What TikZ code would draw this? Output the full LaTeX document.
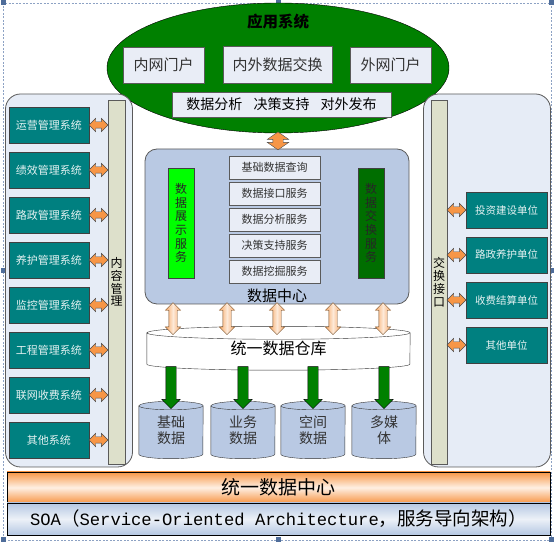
\documentclass[tikz,border=0pt]{standalone}
\usepackage{fontspec}
\setmainfont{Noto Sans CJK SC}
\newfontfamily\monofont{Liberation Mono}
\usepackage{tikz}
\usetikzlibrary{arrows.meta,positioning,shapes.geometric,shapes.arrows,calc,backgrounds}
\definecolor{appgreen}{HTML}{008000}
\definecolor{portalfill}{HTML}{E9EDF6}
\definecolor{panelfill}{HTML}{E6ECF6}
\definecolor{barfill}{HTML}{DDE0CB}
\definecolor{systeal}{HTML}{008080}
\definecolor{dcblue}{HTML}{B9C9E3}
\definecolor{limegreen}{HTML}{00FF00}
\definecolor{deepgreen}{HTML}{006E00}
\definecolor{linkorange}{HTML}{F79646}
\definecolor{peach}{HTML}{F7A865}
\definecolor{edgegray}{HTML}{5A5A5A}
\definecolor{handleblue}{HTML}{4F6D9A}
\definecolor{frameblue}{HTML}{8DA2C4}
\definecolor{soablue}{HTML}{B4C7E2}
\tikzset{
  portal/.style={draw=edgegray,fill=portalfill,inner sep=0pt,text=black!80,
    font=\fontsize{15}{15}\selectfont},
  panel/.style={draw=edgegray,fill=panelfill,rounded corners=15pt,line width=0.8pt,
    minimum width=127pt,minimum height=373pt},
  sidebar/.style={draw=edgegray,fill=barfill,minimum width=17pt,minimum height=364pt,
    inner sep=0pt,align=center,font=\fontsize{12}{12.8}\selectfont},
  sysbox/.style={draw=black!75,fill=systeal,text=white!90!systeal,inner sep=0pt,
    minimum width=80pt,minimum height=36pt,font=\fontsize{11}{11}\selectfont},
  unitbox/.style={sysbox,minimum width=81pt,font=\fontsize{10.5}{10.5}\selectfont},
  dcbox/.style={draw=edgegray,fill=dcblue,rounded corners=12pt,line width=0.8pt,
    minimum width=264pt,minimum height=155pt},
  svcbar/.style={draw=black!75,minimum width=26pt,minimum height=110pt,inner sep=0pt,
    align=center,text=black!85,font=\fontsize{12}{13.7}\selectfont},
  svcbox/.style={draw=edgegray,fill=portalfill,minimum width=91pt,minimum height=23pt,
    inner sep=0pt,text=black!80,font=\fontsize{11}{11}\selectfont},
  dbnode/.style={minimum width=64pt,minimum height=48pt,inner sep=0pt,align=center,
    text=black!80,font=\fontsize{14}{16.5}\selectfont},
  dbshape/.style={draw=black!80,fill=dcblue},
  hlink/.style={double arrow,draw=black!70,fill=linkorange,inner sep=3pt,
    minimum height=19pt,double arrow head extend=3.5pt},
  vlink/.style={hlink,shape border rotate=90,inner sep=5pt,minimum height=18pt,
    double arrow head extend=5.5pt,double arrow tip angle=110},
  feedlink/.style={double arrow,shape border rotate=90,draw=brown!60!black,
    left color=peach,right color=peach,middle color=peach!25,inner sep=4pt,
    minimum height=32pt,double arrow head extend=3.5pt},
  loadlink/.style={single arrow,shape border rotate=270,draw=black,fill=appgreen,
    inner sep=5pt,minimum height=42pt,single arrow head extend=4pt},
  band/.style={draw=black,minimum width=543pt,inner sep=0pt}
}

\begin{document}
\begin{tikzpicture}[x=1pt,y=1pt]
  \useasboundingbox (0,0) rectangle (554,543);
  % Frame and handles
  \draw[frameblue,dash pattern=on 2pt off 1.5pt] (3,3) rectangle (551,540);
  \foreach \hx/\hy in {3/3,278/3,551/3,3/272,551/272,3/540,278/540,551/540} {
    \fill[handleblue] (\hx-2.5,\hy-2.5) rectangle ++(5,5);
  }
  % Application system
  \node[ellipse,draw=black,fill=appgreen,minimum width=342pt,minimum height=130pt] (app) at (278,475) {};
  \node[font=\fontsize{15.5}{15.5}\selectfont\bfseries] (apptitle) at (278,521) {应用系统};
  \node[portal,minimum width=81pt,minimum height=36pt] (inportal) at (163.5,478) {内网门户};
  \node[portal,minimum width=109pt,minimum height=37pt] (exchange) at (277.5,478.5) {内外数据交换};
  \node[portal,minimum width=81pt,minimum height=36pt] (outportal) at (390.5,478) {外网门户};
  \node[portal,minimum width=219pt,minimum height=25pt,text=black,font=\fontsize{14}{14}\selectfont]
    (appfunc) at (281.5,438.5) {数据分析\hspace{0.8em}决策支持\hspace{0.8em}对外发布};
  % Left panel: internal systems
  \node[panel] (lpanel) at (69,262.5) {};
  \node[sidebar] (inbar) at (116.5,261) {内\\容\\管\\理};
  \foreach \i/\txt in {0/运营管理系统,1/绩效管理系统,2/路政管理系统,3/养护管理系统,
      4/监控管理系统,5/工程管理系统,6/联网收费系统,7/其他系统} {
    \node[sysbox] (sys\i) at (49,418-45*\i) {\txt};
    \path (sys\i.east) -- (sys\i.east -| inbar.west) node[midway,hlink] {};
  }
  % Right panel: external units
  \node[panel] (rpanel) at (487,262.5) {};
  \node[sidebar,minimum width=16pt,font=\fontsize{12}{13}\selectfont] (exbar) at (439,261) {交\\换\\接\\口};
  \foreach \i/\txt in {0/投资建设单位,1/路政养护单位,2/收费结算单位,3/其他单位} {
    \node[unitbox] (unit\i) at (506.5,333-45*\i) {\txt};
    \path (exbar.east |- unit\i.west) -- (unit\i.west) node[midway,hlink] {};
  }
  % Data center
  \node[dcbox] (dc) at (277,316.5) {};
  \node[svcbar,fill=limegreen] (showsvc) at (181,320) {数\\据\\展\\示\\服\\务};
  \node[svcbar,fill=deepgreen] (swapsvc) at (371,320) {数\\据\\交\\换\\服\\务};
  \foreach \i/\txt in {0/基础数据查询,1/数据接口服务,2/数据分析服务,3/决策支持服务,4/数据挖掘服务} {
    \node[svcbox] (svc\i) at (274.5,375.5-26*\i) {\txt};
  }
  \node[font=\fontsize{15}{15}\selectfont] (dclabel) at (277,247) {数据中心};
  \path (app.south) -- (app.south |- dc.north) node[midway,vlink] {};
  % Data warehouse
  \node[minimum width=263pt,minimum height=31pt,inner sep=0pt,font=\fontsize{16}{16}\selectfont]
    (wh) at (278.5,194.5) {统一数据仓库};
  \begin{scope}[on background layer]
    \draw[fill=white,draw=black!80] (wh.north west) -- (wh.south west)
      arc[start angle=180,end angle=360,x radius=131.5,y radius=6] -- (wh.north east)
      arc[start angle=0,end angle=180,x radius=131.5,y radius=6.5] -- cycle;
    \draw[black!80] (wh.north west) arc[start angle=180,end angle=360,x radius=131.5,y radius=6.5];
  \end{scope}
  \foreach \i/\dx in {1/-104,2/-50,3/0,4/56,5/106} {
    \coordinate (feed\i) at ($(dc.south)+(\dx,0)$);
    \path (feed\i) -- (feed\i |- wh.north) node[midway,feedlink] {};
  }
  % Databases
  \foreach \i/\x/\txt in {1/171/基础\\数据,2/243/业务\\数据,3/313/空间\\数据,4/384/多媒\\体} {
    \node[dbnode] (db\i) at (\x,113) {\txt};
    \begin{scope}[on background layer]
      \draw[dbshape] (db\i.north west) -- (db\i.south west)
        arc[start angle=180,end angle=360,x radius=32,y radius=4.5] -- (db\i.north east)
        arc[start angle=0,end angle=180,x radius=32,y radius=4.5] -- cycle;
      \draw[black!80] (db\i.north west) arc[start angle=180,end angle=360,x radius=32,y radius=4];
    \end{scope}
    \path (db\i.north |- wh.south) -- (db\i.north) node[midway,loadlink] {};
  }
  % Bottom layers
  \node[band,minimum height=31pt,top color=linkorange,bottom color=linkorange,middle color=linkorange!15,
    font=\fontsize{19}{19}\selectfont] (core) at (278.5,55.5) {统一数据中心};
  \node[band,minimum height=32pt,top color=soablue,bottom color=soablue,middle color=soablue!25,
    font=\fontsize{18.5}{18.5}\selectfont] (soa) at (278.5,24)
    {{\monofont\fontsize{17.2}{18}\selectfont SOA}（{\monofont\fontsize{17.2}{18}\selectfont Service-Oriented Architecture}，服务导向架构）};
\end{tikzpicture}
\end{document}
